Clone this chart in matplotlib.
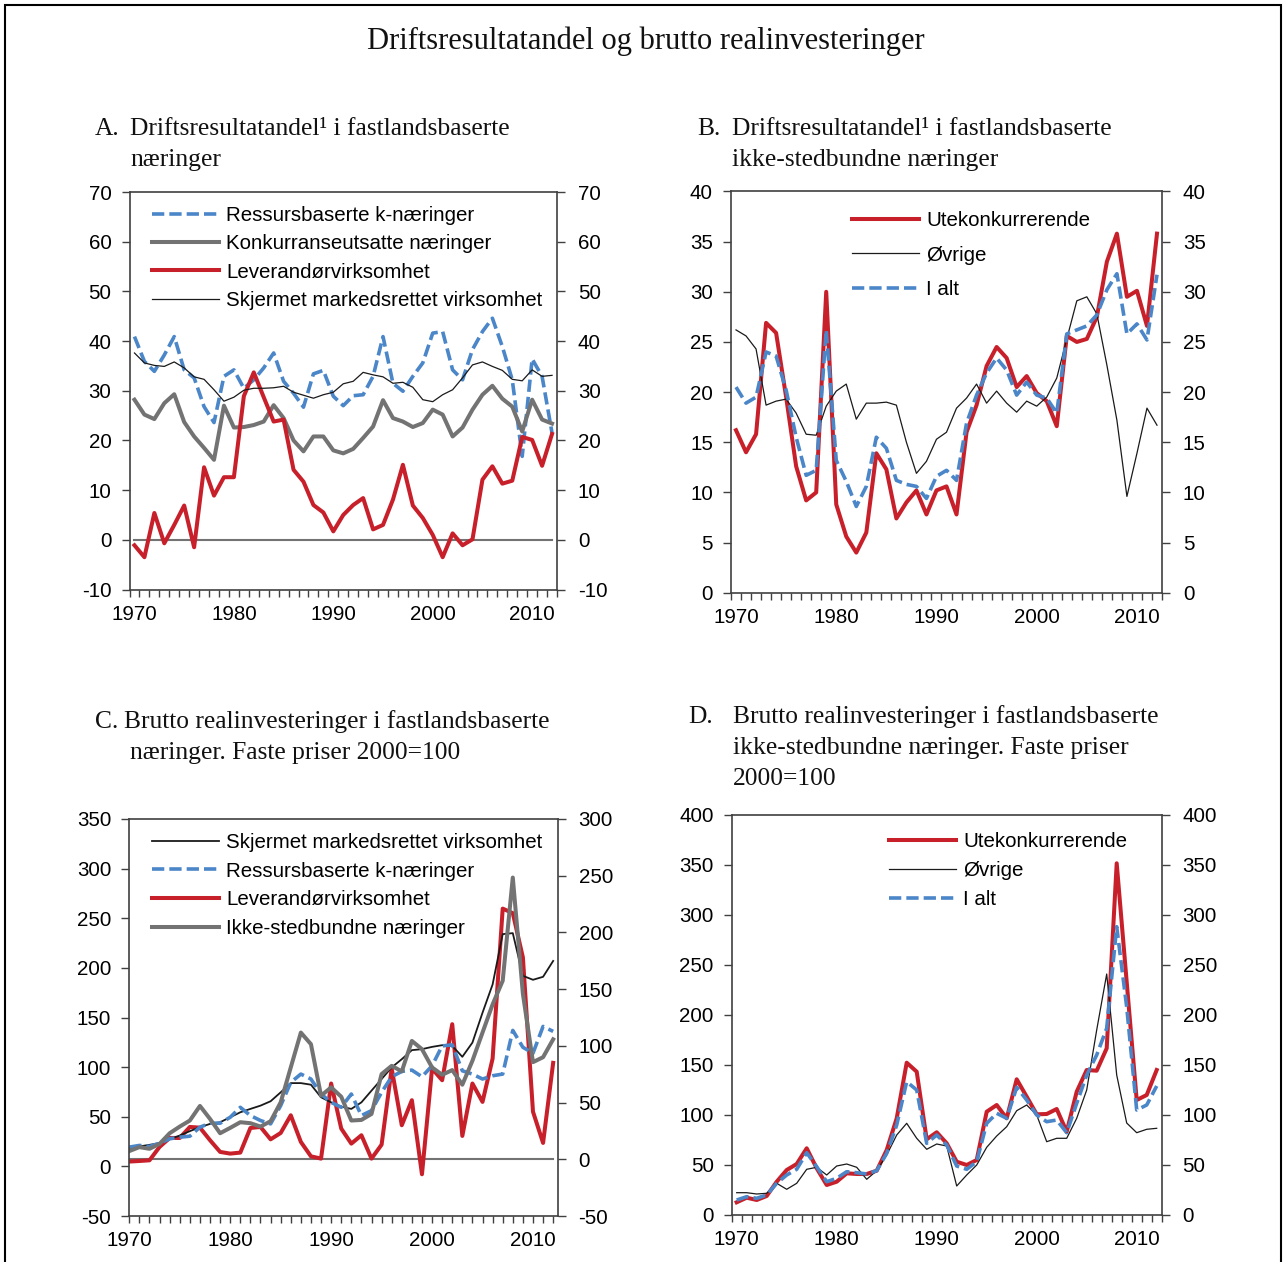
import numpy as np
import matplotlib
matplotlib.use("Agg")
import matplotlib.pyplot as plt
from matplotlib.ticker import MultipleLocator, FixedLocator
from matplotlib.patches import Rectangle

plt.rcParams["axes.unicode_minus"] = False

# ---- data ----
years = np.arange(1970, 2013)

# A. Driftsresultatandel i fastlandsbaserte naeringer (prosent)
a_ressurs = [40.9, 35.9, 33.9, 37.2, 40.9, 34.2, 32.6, 26.8, 23.6, 32.9, 34.2, 30.5, 32.2, 34.6, 37.6,
             31.9, 29.5, 26.7, 33.4, 34.1, 28.9, 27.0, 29.0, 29.2, 32.9, 40.9, 31.5, 29.9, 32.9, 35.6,
             41.6, 41.9, 34.2, 32.2, 38.3, 41.9, 44.6, 38.9, 32.2, 16.8, 36.4, 32.9, 21.5]
a_konk = [28.2, 25.2, 24.3, 27.5, 29.3, 23.7, 20.8, 18.5, 16.1, 27.0, 22.6, 22.7, 23.1, 23.8, 27.1,
          24.5, 20.0, 17.8, 20.8, 20.8, 18.0, 17.4, 18.3, 20.5, 22.8, 28.1, 24.5, 23.8, 22.7, 23.5,
          26.2, 25.2, 20.8, 22.6, 26.2, 29.2, 31.0, 28.4, 26.8, 21.8, 28.2, 24.2, 23.4]
a_lev = [-1.1, -3.5, 5.4, -0.7, 3.0, 6.9, -1.5, 14.6, 8.9, 12.6, 12.6, 28.9, 33.7, 28.7, 23.8,
         24.2, 14.1, 11.7, 7.0, 5.5, 1.7, 5.0, 7.0, 8.4, 2.1, 3.0, 8.1, 15.1, 6.9, 4.4,
         1.0, -3.5, 1.3, -1.1, 0.1, 12.1, 14.8, 11.3, 11.9, 20.7, 20.1, 14.9, 21.3]
a_skj = [37.6, 35.6, 35.1, 34.9, 35.8, 34.6, 32.8, 32.3, 30.2, 27.9, 28.7, 30.1, 30.5, 30.5, 30.6,
         30.9, 29.7, 29.1, 28.5, 29.2, 29.7, 31.4, 31.9, 33.7, 33.2, 32.8, 31.5, 31.7, 30.7, 28.2,
         27.8, 29.2, 30.2, 32.6, 35.2, 35.8, 34.9, 34.1, 32.3, 32.0, 34.2, 32.9, 33.1]

# B. Driftsresultatandel i ikke-stedbundne naeringer
b_ute = [16.2, 14.0, 15.8, 26.9, 25.9, 19.5, 12.6, 9.2, 10.0, 30.0, 8.8, 5.6, 4.0, 6.0, 13.9,
         12.3, 7.4, 9.0, 10.2, 7.8, 10.2, 10.6, 7.8, 16.0, 18.7, 22.6, 24.5, 23.4, 20.5, 21.6,
         19.9, 19.1, 16.6, 25.6, 25.0, 25.3, 27.5, 33.0, 35.8, 29.5, 30.1, 26.6, 35.8]
b_ovr = [26.2, 25.6, 24.3, 18.7, 19.1, 19.3, 17.9, 15.8, 15.7, 18.6, 20.1, 20.8, 17.3, 18.9, 18.9,
         19.0, 18.7, 15.0, 11.9, 13.1, 15.3, 16.0, 18.4, 19.4, 20.8, 18.9, 20.1, 18.9, 18.0, 19.1,
         18.6, 19.5, 21.4, 25.3, 29.1, 29.5, 27.8, 22.7, 17.2, 9.6, 13.9, 18.4, 16.7]
b_ialt = [20.5, 18.9, 19.5, 24.0, 23.6, 20.2, 15.5, 11.7, 12.2, 26.2, 13.2, 11.1, 8.6, 10.6, 15.5,
          14.4, 11.2, 10.8, 10.6, 9.4, 11.6, 12.2, 11.2, 16.9, 19.7, 21.9, 23.4, 22.2, 19.7, 21.0,
          19.7, 19.4, 17.9, 25.8, 26.2, 26.6, 27.7, 30.2, 31.8, 25.8, 26.8, 25.2, 31.7]

# C. Brutto realinvesteringer, 2000=100 (leverandor on right axis)
c_skj = [18.4, 20.1, 21.7, 23.4, 27.4, 31.1, 35.5, 39.5, 42.8, 44.5, 49.5, 54.5, 57.9, 61.2, 65.6,
         74.6, 83.9, 83.9, 82.3, 69.6, 64.5, 60.2, 57.9, 64.5, 76.3, 88.0, 99.7, 108.0, 117.1, 118.1,
         120.4, 122.1, 121.4, 110.4, 124.7, 154.8, 183.3, 234.0, 235.0, 192.0, 188.0, 191.0, 207.0]
c_ressurs = [19.4, 21.1, 20.1, 23.4, 27.8, 29.4, 30.4, 39.5, 43.5, 43.5, 49.5, 59.5, 51.2, 46.2, 42.8,
             61.2, 84.6, 93.0, 88.0, 72.9, 64.5, 59.5, 72.9, 51.2, 56.2, 74.6, 90.3, 95.7, 97.0, 90.3,
             101.3, 121.4, 122.4, 96.3, 93.0, 88.0, 91.3, 93.0, 137.0, 120.0, 114.0, 141.0, 136.0]
c_lev = [-2.0, -1.5, -0.9, 10.9, 18.8, 18.8, 28.5, 27.9, 16.8, 6.5, 5.0, 5.9, 27.6, 28.5, 17.6,
         23.2, 38.8, 15.3, 2.6, 0.6, 66.8, 27.1, 13.8, 21.2, 0.6, 12.9, 80.0, 30.0, 52.1, -13.2,
         80.0, 69.7, 119.1, 20.6, 66.8, 50.6, 88.8, 221.0, 217.0, 178.0, 42.0, 14.4, 85.0]
c_ikke = [15.4, 19.4, 17.7, 22.7, 33.4, 40.1, 46.2, 60.9, 47.8, 33.4, 38.8, 44.5, 43.5, 40.1, 45.5,
          64.5, 99.7, 134.8, 123.1, 71.2, 79.6, 70.2, 46.2, 46.8, 52.8, 93.0, 101.3, 95.7, 126.4, 118.1,
          99.7, 92.3, 97.0, 82.3, 106.4, 134.8, 163.2, 187.0, 291.0, 174.0, 105.0, 110.0, 128.0]

# D. Brutto realinvesteringer ikke-stedbundne, 2000=100
d_ute = [12.7, 17.3, 15.0, 19.0, 33.3, 45.0, 51.0, 66.7, 46.7, 30.0, 33.3, 41.7, 41.0, 41.0, 44.3,
         65.0, 96.7, 152.3, 143.3, 75.7, 82.7, 71.7, 53.3, 50.0, 55.0, 103.3, 110.0, 96.7, 135.7, 118.3,
         100.7, 101.0, 106.0, 83.3, 123.3, 145.0, 144.3, 166.7, 351.7, 233.0, 115.0, 120.0, 145.0]
d_ovr = [22.3, 22.3, 21.0, 21.7, 31.7, 25.7, 31.7, 45.7, 47.7, 40.0, 49.0, 51.0, 47.7, 35.7, 44.3,
         60.0, 80.0, 91.7, 76.7, 65.7, 71.0, 69.0, 29.0, 40.0, 50.0, 67.7, 79.0, 88.3, 104.3, 110.0,
         100.0, 73.3, 76.7, 76.7, 96.7, 125.0, 185.0, 241.0, 140.0, 92.0, 82.3, 85.7, 86.7]
d_ialt = [15.0, 18.3, 16.7, 20.0, 31.7, 40.0, 45.7, 62.3, 48.3, 33.3, 36.7, 43.3, 42.3, 41.0, 44.3,
          61.7, 90.0, 133.3, 125.0, 71.7, 80.0, 70.0, 49.0, 45.7, 53.3, 91.7, 101.7, 96.7, 127.7, 115.0,
          100.0, 93.3, 95.0, 82.3, 111.7, 140.0, 160.0, 186.7, 288.3, 208.0, 105.0, 110.0, 129.0]

# ---- style ----
RED = "#C8202A"
BLUE = "#4A86C8"
GRAY = "#737373"
BLACK = "#1a1a1a"
AXC = "#404040"
SANS = "Liberation Sans"
SERIF = "Liberation Serif"
TICKFS = 14.8

W, H = 1286, 1262
fig = plt.figure(figsize=(W / 100, H / 100), dpi=100)


def rect(l, t, r, b):
    return [l / W, 1 - b / H, (r - l) / W, (b - t) / H]


def style_axes(ax, ylim, ystep, right=None, between=True):
    ax.set_ylim(*ylim)
    ax.yaxis.set_major_locator(MultipleLocator(ystep))
    if between:
        ax.set_xlim(1969.5, 2012.5)
        ax.xaxis.set_major_locator(FixedLocator([1970, 1980, 1990, 2000, 2010]))
        ax.xaxis.set_minor_locator(FixedLocator(np.arange(1969.5, 2013, 1)))
        ax.tick_params(axis="x", which="major", length=0, pad=11)
    else:
        ax.set_xlim(1970, 2012.45)
        ax.xaxis.set_major_locator(FixedLocator([1970, 1980, 1990, 2000, 2010]))
        ax.xaxis.set_minor_locator(FixedLocator(np.arange(1970, 2013, 1)))
        ax.tick_params(axis="x", which="major", length=5, pad=6, width=1, color=AXC)
    ax.tick_params(axis="x", which="minor", length=5, width=1, color=AXC, direction="out")
    ax.tick_params(axis="y", which="major", length=6, width=1, color=AXC, direction="out", pad=7)
    ax.tick_params(labelsize=TICKFS)
    for s in ax.spines.values():
        s.set_color(AXC)
        s.set_linewidth(1.2)
    for lab in ax.get_xticklabels() + ax.get_yticklabels():
        lab.set_fontfamily(SANS)
    # right axis
    if right is None:
        right = ylim
    ax2 = ax.twinx()
    ax2.set_ylim(*right)
    ax2.yaxis.set_major_locator(MultipleLocator(ystep))
    ax2.tick_params(axis="y", length=6, width=1, color=AXC, direction="out", pad=9, labelsize=TICKFS)
    for lab in ax2.get_yticklabels():
        lab.set_fontfamily(SANS)
    for s in ax2.spines.values():
        s.set_visible(False)
    return ax2


def legend(ax, handles, labels, x, y, spacing):
    ax.legend(handles, labels, loc="upper left", bbox_to_anchor=(x / W, 1 - y / H),
              bbox_transform=fig.transFigure, frameon=False, borderpad=0, borderaxespad=0,
              handlelength=3.27, handletextpad=0.34, labelspacing=spacing,
              prop={"family": SANS, "size": TICKFS})


dash = (3.4, 1.4)

# ---- Panel A ----
axA = fig.add_axes(rect(129.5, 192, 557, 589.5))
style_axes(axA, (-10, 70), 10)
axA.plot(years, np.zeros(len(years)), color=GRAY, lw=1.5)
lA1, = axA.plot(years, a_ressurs, color=BLUE, lw=2.6, dashes=dash)
lA2, = axA.plot(years, a_konk, color=GRAY, lw=2.9)
lA3, = axA.plot(years, a_lev, color=RED, lw=2.9)
lA4, = axA.plot(years, a_skj, color=BLACK, lw=0.9)
legend(axA, [lA1, lA2, lA3, lA4],
       ["Ressursbaserte k-næringer", "Konkurranseutsatte næringer",
        "Leverandørvirksomhet", "Skjermet markedsrettet virksomhet"], 152, 206, 0.45)

# ---- Panel B ----
axB = fig.add_axes(rect(731, 191.5, 1162, 592.7))
style_axes(axB, (0, 40), 5)
lB1, = axB.plot(years, b_ute, color=RED, lw=2.9)
lB2, = axB.plot(years, b_ovr, color=BLACK, lw=0.9)
lB3, = axB.plot(years, b_ialt, color=BLUE, lw=2.6, dashes=dash)
legend(axB, [lB1, lB2, lB3], ["Utekonkurrerende", "Øvrige", "I alt"], 852, 211, 0.76)

# ---- Panel C ----
axC = fig.add_axes(rect(129.3, 819, 557.7, 1216))
axC2 = style_axes(axC, (-50, 350), 50, right=(-50, 300), between=False)
axC2.plot(years, np.zeros(len(years)), color=GRAY, lw=1.5)
lC3, = axC2.plot(years, c_lev, color=RED, lw=2.9)
lC1, = axC.plot(years, c_skj, color=BLACK, lw=1.3)
lC2, = axC.plot(years, c_ressurs, color=BLUE, lw=2.6, dashes=dash)
lC4, = axC.plot(years, c_ikke, color=GRAY, lw=2.9)
axC.set_zorder(axC2.get_zorder() + 1)
axC.patch.set_visible(False)
legend(axC, [lC1, lC2, lC3, lC4],
       ["Skjermet markedsrettet virksomhet", "Ressursbaserte k-næringer",
        "Leverandørvirksomhet", "Ikke-stedbundne næringer"], 152, 833, 0.47)

# ---- Panel D ----
axD = fig.add_axes(rect(731.7, 815, 1161.7, 1215))
style_axes(axD, (0, 400), 50)
lD1, = axD.plot(years, d_ute, color=RED, lw=2.9)
lD2, = axD.plot(years, d_ovr, color=BLACK, lw=0.9)
lD3, = axD.plot(years, d_ialt, color=BLUE, lw=2.6, dashes=dash)
legend(axD, [lD1, lD2, lD3], ["Utekonkurrerende", "Øvrige", "I alt"], 889, 832, 0.495)

# ---- titles ----
def ftext(x, y, s, size=18.4, ha="left"):
    fig.text(x / W, 1 - y / H, s, fontsize=size, family=SERIF, ha=ha, va="center", color="#111111")

ftext(646, 41, "Driftsresultatandel og brutto realinvesteringer", size=22, ha="center")
ftext(95, 129, "A.")
ftext(130, 129, "Driftsresultatandel¹ i fastlandsbaserte")
ftext(130, 160, "næringer")
ftext(697, 129, "B.")
ftext(732, 129, "Driftsresultatandel¹ i fastlandsbaserte")
ftext(732, 160, "ikke-stedbundne næringer")
ftext(95, 722, "C.")
ftext(124, 722, "Brutto realinvesteringer i fastlandsbaserte")
ftext(130, 753, "næringer. Faste priser 2000=100")
ftext(688, 717, "D.")
ftext(733, 717, "Brutto realinvesteringer i fastlandsbaserte")
ftext(733, 748, "ikke-stedbundne næringer. Faste priser")
ftext(733, 779, "2000=100")

# outer frame
fig.patches.append(Rectangle((5 / W, -0.01), (1281 - 5) / W, 1.01 - 5 / H, transform=fig.transFigure,
                             fill=False, edgecolor="black", lw=1.5))

plt.savefig("out.png", dpi=100)
